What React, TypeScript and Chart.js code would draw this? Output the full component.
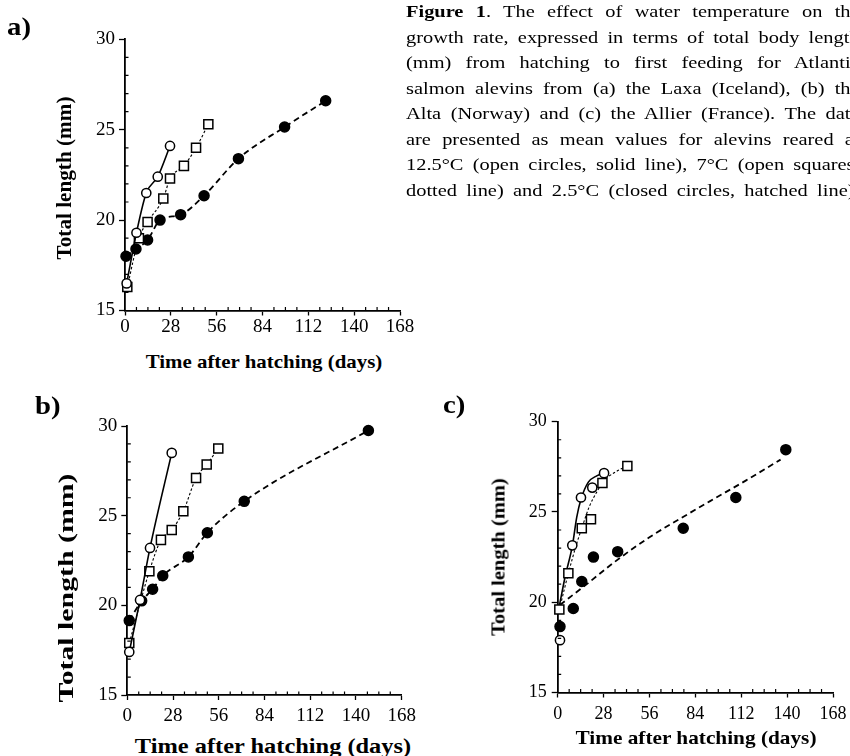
import React, { useEffect, useRef } from 'react';
import { Chart, registerables } from 'chart.js';

Chart.register(...registerables);

const SERIF = '"Liberation Serif", "Times New Roman", serif';

// ---- (a) Laxa, Iceland: days after hatching / mean total length (mm)
const laxaWarmDays = [1, 7, 13, 20, 27.5];
const laxaWarmLen = [16.5, 19.3, 21.5, 22.4, 24.1];
const laxaMidDays = [1.4, 8.5, 13.8, 23.4, 27.5, 36, 43.4, 50.9];
const laxaMidLen = [16.3, 19.0, 19.9, 21.2, 22.3, 23.0, 24.0, 25.3];
const laxaColdDays = [0.6, 6.7, 13.8, 21.4, 34, 48.3, 69.3, 97.5, 122.6];
const laxaColdLen = [18.0, 18.4, 18.9, 20.0, 20.3, 21.35, 23.4, 25.15, 26.6];

// ---- (b) Alta, Norway
const altaWarmDays = [1.2, 7.8, 13.9, 27.2];
const altaWarmLen = [17.4, 20.3, 23.2, 28.5];
const altaMidDays = [1.2, 13.5, 20.6, 27.2, 34.3, 42.1, 48.6, 55.7];
const altaMidLen = [17.9, 21.9, 23.65, 24.2, 25.25, 27.1, 27.85, 28.75];
const altaColdDays = [1.2, 8.8, 15.5, 21.7, 37.4, 49, 71.6, 147.6];
const altaColdLen = [19.15, 20.25, 20.9, 21.65, 22.7, 24.05, 25.8, 29.75];

// ---- (c) Allier, France (means plus fitted growth curves)
const allierWarmDays = [1.4, 8.9, 14.2, 21.1, 28.3];
const allierWarmLen = [17.9, 23.15, 25.8, 26.35, 27.15];
const allierMidDays = [1.0, 6.5, 14.7, 20.3, 27.3, 42.5];
const allierMidLen = [19.6, 21.6, 24.1, 24.6, 26.6, 27.55];
const allierColdDays = [1.4, 9.5, 14.7, 21.8, 36.6, 76.6, 108.7, 139.2];
const allierColdLen = [18.65, 19.65, 21.15, 22.5, 22.8, 24.1, 25.8, 28.45];

const allierWarmFitDays = [1, 4.5, 9, 11.6, 14.2, 18.7, 23.8, 28];
const allierWarmFitLen = [19.8, 21.4, 23.15, 24.7, 25.7, 26.65, 27.0, 27.15];
const allierMidFitDays = [1, 6.5, 11.6, 14.7, 19.3, 23.8, 27.9, 35, 42.5];
const allierMidFitLen = [19.6, 21.6, 23.25, 24.1, 25.3, 26.1, 26.7, 27.2, 27.55];
const allierColdFitDays = [1.4, 17, 35, 56, 77, 93, 115, 136];
const allierColdFitLen = [19.85, 20.95, 22.25, 23.6, 24.75, 25.6, 26.75, 27.9];

// ---- axes
const DAY_MIN = 0;
const DAY_MAX = 168;
const DAY_STEP = 28;
const DAY_MINOR = 7;
const LEN_MIN = 15;
const LEN_MAX = 30;
const LEN_STEP = 5;
const LEN_MINOR = 1;

const CAPTION_LINES = [
  'The effect of water temperature on the',
  'growth rate, expressed in terms of total body length',
  '(mm) from hatching to first feeding for Atlantic',
  'salmon alevins from (a) the Laxa (Iceland), (b) the',
  'Alta (Norway) and (c) the Allier (France). The data',
  'are presented as mean values for alevins reared at',
  '12.5°C (open circles, solid line), 7°C (open squares,',
  'dotted line) and 2.5°C (closed circles, hatched line).',
];

type Kind = 'warm' | 'mid' | 'cold';

const LINE_STYLE: Record<Kind, { width: number; dash: number[] }> = {
  warm: { width: 1.6, dash: [] },
  mid: { width: 1.1, dash: [2.5, 2] },
  cold: { width: 1.8, dash: [6, 4] },
};

const MARKER: Record<Kind, { style: string; radius: number; fill: string }> = {
  warm: { style: 'circle', radius: 4.6, fill: '#fff' },
  mid: { style: 'rect', radius: 6.4, fill: '#fff' },
  cold: { style: 'circle', radius: 5, fill: '#000' },
};

const toPoints = (days: number[], len: number[]) => days.map((d, i) => ({ x: d, y: len[i] }));

function means(label: string, kind: Kind, days: number[], len: number[], connect: boolean) {
  const l = LINE_STYLE[kind];
  const m = MARKER[kind];
  return {
    label,
    data: toPoints(days, len),
    showLine: connect,
    borderColor: '#000',
    borderWidth: l.width,
    borderDash: l.dash,
    cubicInterpolationMode: 'monotone',
    pointStyle: m.style,
    pointRadius: m.radius,
    pointBorderColor: '#000',
    pointBorderWidth: 1.5,
    pointBackgroundColor: m.fill,
    clip: false,
    order: 1,
  };
}

function curve(label: string, kind: Kind, days: number[], len: number[]) {
  const l = LINE_STYLE[kind];
  return {
    label,
    data: toPoints(days, len),
    showLine: true,
    borderColor: '#000',
    borderWidth: l.width,
    borderDash: l.dash,
    cubicInterpolationMode: 'monotone',
    pointRadius: 0,
    clip: false,
    order: 2,
  };
}

// Short inward ticks between the labelled ones on both axes
const minorTicks = {
  id: 'minorTicks',
  afterDraw(chart: any) {
    const { ctx, chartArea, scales } = chart;
    const x = scales.x;
    const y = scales.y;
    ctx.save();
    ctx.strokeStyle = '#000';
    ctx.lineWidth = 1.2;
    ctx.beginPath();
    for (let d = DAY_MIN + DAY_MINOR; d < DAY_MAX; d += DAY_MINOR) {
      if (d % DAY_STEP === 0) continue;
      const px = x.getPixelForValue(d);
      ctx.moveTo(px, chartArea.bottom);
      ctx.lineTo(px, chartArea.bottom - 3.5);
    }
    for (let v = LEN_MIN + LEN_MINOR; v < LEN_MAX; v += LEN_MINOR) {
      if (v % LEN_STEP === 0) continue;
      const py = y.getPixelForValue(v);
      ctx.moveTo(chartArea.left, py);
      ctx.lineTo(chartArea.left + 3.5, py);
    }
    ctx.stroke();
    ctx.restore();
  },
};

type Box = { left: number; top: number; w: number; h: number };
type Area = { left: number; right: number; top: number; bottom: number };

function Panel(props: {
  box: Box;
  area: Area;
  datasets: any[];
  xFont: number;
  yFont: number;
  xPad: number;
  yPad: number;
}) {
  const ref = useRef<HTMLCanvasElement>(null);
  const { box, area, datasets, xFont, yFont, xPad, yPad } = props;

  useEffect(() => {
    const W = box.w;
    const H = box.h;
    const L = area.left - box.left;
    const R = area.right - box.left;
    const T = area.top - box.top;
    const B = area.bottom - box.top;
    const chart = new Chart(ref.current as HTMLCanvasElement, {
      type: 'scatter',
      data: { datasets } as any,
      options: {
        responsive: false,
        animation: false,
        devicePixelRatio: 1,
        layout: { padding: { left: 0, top: T, right: W - R, bottom: 0 } },
        plugins: { legend: { display: false }, tooltip: { enabled: false } },
        scales: {
          x: {
            type: 'linear',
            min: DAY_MIN,
            max: DAY_MAX,
            ticks: {
              stepSize: DAY_STEP,
              color: '#000',
              padding: xPad,
              maxRotation: 0,
              autoSkip: false,
              font: { family: SERIF, size: xFont },
            },
            grid: {
              display: true,
              drawOnChartArea: false,
              drawTicks: true,
              tickLength: 5,
              tickColor: '#000',
              tickWidth: 1.3,
            },
            border: { display: true, color: '#000', width: 1.8 },
            afterFit: (s: any) => {
              s.height = H - B;
              s.paddingLeft = 0;
              s.paddingRight = 0;
            },
          },
          y: {
            type: 'linear',
            min: LEN_MIN,
            max: LEN_MAX,
            ticks: {
              stepSize: LEN_STEP,
              color: '#000',
              padding: yPad,
              font: { family: SERIF, size: yFont },
            },
            grid: {
              display: true,
              drawOnChartArea: false,
              drawTicks: true,
              tickLength: 6,
              tickColor: '#000',
              tickWidth: 1.3,
            },
            border: { display: true, color: '#000', width: 1.8 },
            afterFit: (s: any) => {
              s.width = L;
              s.paddingTop = 0;
              s.paddingBottom = 0;
            },
          },
        },
      } as any,
      plugins: [minorTicks],
    });
    return () => chart.destroy();
  }, []);

  return (
    <canvas
      ref={ref}
      width={box.w}
      height={box.h}
      style={{ position: 'absolute', left: box.left, top: box.top }}
    />
  );
}

// Text placed by its baseline; `stretch` widens it along the writing direction
function Text(props: {
  text: string;
  x: number;
  baseline: number;
  size: number;
  stretch?: number;
  bold?: boolean;
  anchor?: 'start' | 'middle';
}) {
  const { text, x, baseline, size, stretch = 1, bold = false, anchor = 'start' } = props;
  return (
    <div
      style={{
        position: 'absolute',
        left: x,
        top: baseline - 0.8375 * size,
        fontSize: size,
        lineHeight: 1,
        fontWeight: bold ? 700 : 400,
        whiteSpace: 'nowrap',
        transformOrigin: anchor === 'middle' ? '50% 50%' : '0 50%',
        transform: anchor === 'middle' ? `translateX(-50%) scaleX(${stretch})` : `scaleX(${stretch})`,
      }}
    >
      {text}
    </div>
  );
}

// Vertical axis title, centred on (cx, cy), reading bottom to top
function VText(props: { text: string; cx: number; cy: number; size: number; stretch?: number }) {
  const { text, cx, cy, size, stretch = 1 } = props;
  return (
    <div
      style={{
        position: 'absolute',
        left: cx,
        top: cy,
        fontSize: size,
        lineHeight: 1,
        fontWeight: 700,
        whiteSpace: 'nowrap',
        transformOrigin: '50% 50%',
        transform: `translate(-50%, -50%) rotate(-90deg) scaleX(${stretch})`,
      }}
    >
      {text}
    </div>
  );
}

const X_TITLE = 'Time after hatching (days)';
const Y_TITLE = 'Total length (mm)';

export default function App() {
  const laxa = [
    means('12.5°C', 'warm', laxaWarmDays, laxaWarmLen, true),
    means('7°C', 'mid', laxaMidDays, laxaMidLen, true),
    means('2.5°C', 'cold', laxaColdDays, laxaColdLen, true),
  ];
  const alta = [
    means('12.5°C', 'warm', altaWarmDays, altaWarmLen, true),
    means('7°C', 'mid', altaMidDays, altaMidLen, true),
    means('2.5°C', 'cold', altaColdDays, altaColdLen, true),
  ];
  const allier = [
    means('12.5°C', 'warm', allierWarmDays, allierWarmLen, false),
    means('7°C', 'mid', allierMidDays, allierMidLen, false),
    means('2.5°C', 'cold', allierColdDays, allierColdLen, false),
    curve('12.5°C fit', 'warm', allierWarmFitDays, allierWarmFitLen),
    curve('7°C fit', 'mid', allierMidFitDays, allierMidFitLen),
    curve('2.5°C fit', 'cold', allierColdFitDays, allierColdFitLen),
  ];

  return (
    <div
      style={{
        position: 'fixed',
        left: 0,
        top: 0,
        width: 850,
        height: 756,
        overflow: 'hidden',
        background: '#fff',
        color: '#000',
        fontFamily: SERIF,
      }}
    >
      <Panel
        box={{ left: 0, top: 0, w: 420, h: 340 }}
        area={{ left: 125, right: 400, top: 39.3, bottom: 310.5 }}
        datasets={laxa}
        xFont={19}
        yFont={19}
        xPad={0}
        yPad={4}
      />
      <Panel
        box={{ left: 0, top: 380, w: 420, h: 350 }}
        area={{ left: 127.3, right: 401.7, top: 426, bottom: 695 }}
        datasets={alta}
        xFont={19}
        yFont={19}
        xPad={5}
        yPad={4}
      />
      <Panel
        box={{ left: 430, top: 380, w: 420, h: 350 }}
        area={{ left: 557.7, right: 833, top: 421.7, bottom: 692.5 }}
        datasets={allier}
        xFont={18}
        yFont={18}
        xPad={6}
        yPad={5}
      />

      <Text text="a)" x={7} baseline={35} size={25} stretch={1.15} bold />
      <Text text="b)" x={35} baseline={414} size={25} stretch={1.15} bold />
      <Text text="c)" x={443} baseline={413} size={25} stretch={1.15} bold />

      <VText text={Y_TITLE} cx={63.6} cy={177.5} size={20} stretch={1.06} />
      <VText text={Y_TITLE} cx={66} cy={587.5} size={20} stretch={1.49} />
      <VText text={Y_TITLE} cx={497.8} cy={556.7} size={19} stretch={1.08} />

      <Text text={X_TITLE} x={264} baseline={368} size={19} stretch={1.1} bold anchor="middle" />
      <Text text={X_TITLE} x={272.5} baseline={753} size={20} stretch={1.22} bold anchor="middle" />
      <Text text={X_TITLE} x={696} baseline={744} size={19} stretch={1.12} bold anchor="middle" />

      <div
        style={{
          position: 'absolute',
          left: 406,
          top: -1,
          width: 378,
          fontSize: 17,
          lineHeight: '25.5px',
          transformOrigin: '0 0',
          transform: 'scaleX(1.2)',
        }}
      >
        {CAPTION_LINES.map((line, i) => (
          <div key={i} style={{ textAlign: 'justify', textAlignLast: 'justify' }}>
            {i === 0 ? (
              <>
                <b>Figure 1</b>. {line}
              </>
            ) : (
              line
            )}
          </div>
        ))}
      </div>
    </div>
  );
}
